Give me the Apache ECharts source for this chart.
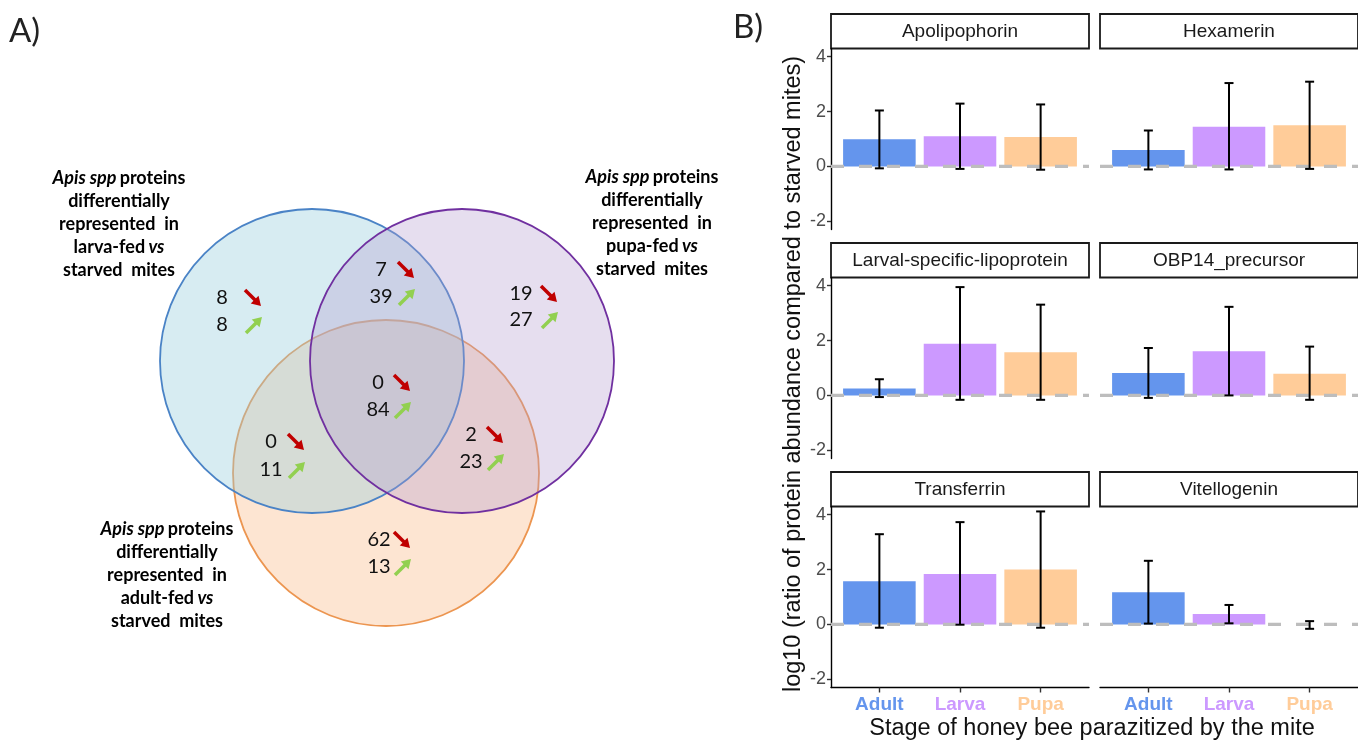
<!DOCTYPE html>
<html>
<head>
<meta charset="utf-8">
<script src="https://cdn.jsdelivr.net/npm/echarts@6/dist/echarts.min.js"></script>
<style>
html, body { margin: 0; padding: 0; background: #fff; }
#main { width: 1358px; height: 743px; }
</style>
</head>
<body>
<div id="main"></div>
<script>
// ---- data: Venn (A) ----
var regionNames = ['larva', 'larva+pupa', 'pupa', 'all', 'larva+adult', 'pupa+adult', 'adult'];
var regionDown = [8, 7, 19, 0, 0, 2, 62];
var regionUp = [8, 39, 27, 84, 11, 23, 13];

// ---- data: bars (B) ----
var proteins = ['Apolipophorin', 'Hexamerin', 'Larval-specific-lipoprotein', 'OBP14_precursor', 'Transferrin', 'Vitellogenin'];
var stages = ['Adult', 'Larva', 'Pupa'];
var adultMean = [0.99, 0.60, 0.25, 0.82, 1.57, 1.17];
var larvaMean = [1.10, 1.45, 1.88, 1.61, 1.84, 0.38];
var pupaMean  = [1.07, 1.50, 1.57, 0.79, 2.00, 0.00];
var adultLow  = [-0.07, -0.11, -0.06, -0.09, -0.12, 0.03];
var larvaLow  = [-0.09, -0.11, -0.16, 0.00, -0.01, 0.04];
var pupaLow   = [-0.12, -0.09, -0.16, -0.16, -0.12, -0.16];
var adultHigh = [2.04, 1.31, 0.59, 1.73, 3.29, 2.32];
var larvaHigh = [2.29, 3.04, 3.95, 3.23, 3.73, 0.71];
var pupaHigh  = [2.26, 3.09, 3.31, 1.78, 4.12, 0.12];
var yTicks = [-2, 0, 2, 4];

// ---- layout ----
var vennFont = 'Lato, "Open Sans", sans-serif';
var plotFont = '"Liberation Sans", Arial, sans-serif';
var stageColors = ['#6495ED', '#CC99FF', '#FFCC99'];
// circles drawn in this order: adult, larva, pupa
var vennCircles = [
    {cx: 386, cy: 473, r: 153, fill: 'rgba(249,186,137,0.38)', stroke: '#ec9550'},
    {cx: 312, cy: 361, r: 152, fill: 'rgba(150,205,222,0.38)', stroke: '#4a83c6'},
    {cx: 462, cy: 361, r: 152, fill: 'rgba(180,155,205,0.33)', stroke: '#7030a0'}
];
// number centre x, row y (down / up), arrow tail x
var vennSpots = [
    {nx: 222, y1: 298, y2: 325, ax: 245},
    {nx: 381, y1: 270, y2: 297, ax: 398},
    {nx: 521, y1: 294, y2: 320, ax: 541},
    {nx: 378, y1: 383, y2: 410, ax: 394},
    {nx: 271, y1: 442, y2: 470, ax: 288},
    {nx: 471, y1: 435, y2: 462, ax: 487},
    {nx: 379, y1: 540, y2: 567, ax: 394}
];
var colLeft = [831, 1100], colWidth = 258;
var rowTop = [48.5, 277.5, 506.5], rowHeight = 181, stripH = 34.5;

function arrow(x0, y0, x1, y1, color) {
    var dx = x1 - x0, dy = y1 - y0, L = Math.sqrt(dx * dx + dy * dy);
    var ux = dx / L, uy = dy / L, hl = 9, hw = 5.5;
    var bx = x1 - ux * hl, by = y1 - uy * hl;
    return [
        {type: 'line', shape: {x1: x0, y1: y0, x2: bx + ux, y2: by + uy}, style: {stroke: color, lineWidth: 3.5}},
        {type: 'polygon', shape: {points: [[x1, y1], [bx - uy * hw, by + ux * hw], [bx + uy * hw, by - ux * hw]]}, style: {fill: color}}
    ];
}

var myChart = echarts.init(document.getElementById('main'));

var grids = [], xAxes = [], yAxes = [], series = [], graphics = [];

// facets
proteins.forEach(function (name, i) {
    var r = Math.floor(i / 2), c = i % 2;
    var bottom = r === 2, leftCol = c === 0;
    grids.push({left: colLeft[c], top: rowTop[r], width: colWidth, height: rowHeight});
    xAxes.push({
        gridIndex: i, type: 'value', min: 0.4, max: 3.6,
        splitLine: {show: false},
        axisLine: {show: bottom, onZero: false, lineStyle: {color: '#000', width: 1.4}},
        axisTick: {show: bottom, customValues: [1, 2, 3], length: 5, lineStyle: {color: '#333', width: 1.4}},
        axisLabel: {
            show: bottom, customValues: [1, 2, 3], margin: 8,
            formatter: function (v) {
                var k = Math.round(v) - 1;
                return '{s' + k + '|' + stages[k] + '}';
            },
            rich: {
                s0: {color: stageColors[0], fontWeight: 'bold', fontSize: 19, fontFamily: plotFont},
                s1: {color: stageColors[1], fontWeight: 'bold', fontSize: 19, fontFamily: plotFont},
                s2: {color: stageColors[2], fontWeight: 'bold', fontSize: 19, fontFamily: plotFont}
            }
        }
    });
    yAxes.push({
        gridIndex: i, type: 'value', min: -2.3, max: 4.3,
        splitLine: {show: false},
        axisLine: {show: leftCol, onZero: false, lineStyle: {color: '#000', width: 1.4}},
        axisTick: {show: leftCol, customValues: yTicks, length: 4, lineStyle: {color: '#333', width: 1.4}},
        axisLabel: {show: leftCol, customValues: yTicks, margin: 5, color: '#4d4d4d', fontSize: 18, fontFamily: plotFont}
    });

    var means = [adultMean[i], larvaMean[i], pupaMean[i]];
    var lows = [adultLow[i], larvaLow[i], pupaLow[i]];
    var highs = [adultHigh[i], larvaHigh[i], pupaHigh[i]];
    var rows = means.map(function (m, k) { return [k + 1, m, lows[k], highs[k]]; });

    series.push({
        type: 'custom', xAxisIndex: i, yAxisIndex: i, z: 2, silent: true,
        data: rows,
        renderItem: function (params, api) {
            var x = api.value(0), v = api.value(1);
            var p0 = api.coord([x - 0.45, 0]);
            var p1 = api.coord([x + 0.45, v]);
            return {
                type: 'rect',
                shape: {x: p0[0], y: Math.min(p0[1], p1[1]), width: p1[0] - p0[0], height: Math.abs(p1[1] - p0[1])},
                style: {fill: stageColors[x - 1]}
            };
        }
    });
    series.push({
        type: 'line', xAxisIndex: i, yAxisIndex: i, z: 3, silent: true,
        data: [[0.4, 0], [3.6, 0]], symbol: 'none',
        lineStyle: {color: '#bdbdbd', width: 3.2, type: [13, 15]}
    });
    series.push({
        type: 'custom', xAxisIndex: i, yAxisIndex: i, z: 4, silent: true,
        data: rows,
        renderItem: function (params, api) {
            var x = api.value(0);
            var lo = api.coord([x, api.value(2)]);
            var hi = api.coord([x, api.value(3)]);
            var w = 4.5, st = {stroke: '#000', lineWidth: 2};
            return {
                type: 'group', children: [
                    {type: 'line', shape: {x1: lo[0], y1: lo[1], x2: hi[0], y2: hi[1]}, style: st},
                    {type: 'line', shape: {x1: lo[0] - w, y1: lo[1], x2: lo[0] + w, y2: lo[1]}, style: st},
                    {type: 'line', shape: {x1: hi[0] - w, y1: hi[1], x2: hi[0] + w, y2: hi[1]}, style: st}
                ]
            };
        }
    });

    graphics.push({
        type: 'rect', silent: true,
        shape: {x: colLeft[c], y: rowTop[r] - stripH, width: colWidth, height: stripH},
        style: {fill: '#fff', stroke: '#1a1a1a', lineWidth: 1.8}
    });
    graphics.push({
        type: 'text', silent: true,
        x: colLeft[c] + colWidth / 2, y: rowTop[r] - stripH / 2 + 1,
        style: {text: name, fill: '#1a1a1a', fontSize: 19, fontFamily: plotFont, align: 'center', verticalAlign: 'middle'}
    });
});

// Venn in a hidden pixel-space grid
var vi = proteins.length;
grids.push({left: 0, top: 0, width: 720, height: 743});
xAxes.push({gridIndex: vi, type: 'value', min: 0, max: 720, show: false});
yAxes.push({gridIndex: vi, type: 'value', min: 0, max: 743, inverse: true, show: false});

series.push({
    type: 'custom', xAxisIndex: vi, yAxisIndex: vi, silent: true, z: 1,
    data: vennCircles.map(function (cc) { return [cc.cx, cc.cy, cc.r]; }),
    renderItem: function (params, api) {
        var cc = vennCircles[params.dataIndex];
        var p = api.coord([api.value(0), api.value(1)]);
        var rad = api.size([api.value(2), 0])[0];
        return {
            type: 'circle', shape: {cx: p[0], cy: p[1], r: rad},
            style: {fill: cc.fill, stroke: cc.stroke, lineWidth: 1.8}
        };
    }
});
series.push({
    type: 'custom', xAxisIndex: vi, yAxisIndex: vi, silent: true, z: 5,
    data: regionNames.map(function (n, k) { return [k, regionDown[k], regionUp[k]]; }),
    renderItem: function (params, api) {
        var s = vennSpots[api.value(0)];
        var n1 = api.coord([s.nx, s.y1]), n2 = api.coord([s.nx, s.y2]);
        var a = api.coord([s.ax, s.y1]), b = api.coord([s.ax, s.y2]);
        var txt = {fill: '#111', fontSize: 20, fontFamily: vennFont, align: 'center', verticalAlign: 'middle'};
        var kids = [
            {type: 'text', style: echarts.util.extend({text: String(api.value(1)), x: n1[0], y: n1[1]}, txt)},
            {type: 'text', style: echarts.util.extend({text: String(api.value(2)), x: n2[0], y: n2[1]}, txt)}
        ];
        kids = kids.concat(arrow(a[0], a[1] - 8, a[0] + 16, a[1] + 8, '#c00000'));
        kids = kids.concat(arrow(b[0] + 1, b[1] + 8, b[0] + 17, b[1] - 8, '#92d050'));
        return {type: 'group', children: kids};
    }
});

// Venn set captions
var vennRich = {
    i: {fontStyle: 'italic', fontWeight: 'bold', fontSize: 18, fontFamily: vennFont, lineHeight: 23, color: '#111'},
    b: {fontWeight: 'bold', fontSize: 18, fontFamily: vennFont, lineHeight: 23, color: '#111'}
};
function caption(x, y, feed) {
    return {
        type: 'text', silent: true, x: x, y: y,
        style: {
            text: '{i|Apis spp} {b|proteins}\n{b|differentially}\n{b|represented  in}\n{b|' + feed + '} {i|vs}\n{b|starved  mites}',
            rich: vennRich, align: 'center', verticalAlign: 'middle'
        }
    };
}
graphics.push(caption(119, 224, 'larva-fed'));
graphics.push(caption(652, 223, 'pupa-fed'));
graphics.push(caption(167, 575, 'adult-fed'));

graphics.push({type: 'text', silent: true, x: 9, y: 31,
    style: {text: 'A)', fontSize: 33, fontFamily: vennFont, fill: '#222', verticalAlign: 'middle'}});
graphics.push({type: 'text', silent: true, x: 733, y: 27,
    style: {text: 'B)', fontSize: 33, fontFamily: vennFont, fill: '#222', verticalAlign: 'middle'}});

graphics.push({type: 'text', silent: true, x: 794, y: 374, rotation: Math.PI / 2,
    style: {text: 'log10 (ratio of protein abundance compared to starved mites)', fontSize: 23.5,
        fontFamily: plotFont, fill: '#111', align: 'center', verticalAlign: 'middle'}});
graphics.push({type: 'text', silent: true, x: 1092, y: 729,
    style: {text: 'Stage of honey bee parazitized by the mite', fontSize: 23.5,
        fontFamily: plotFont, fill: '#111', align: 'center', verticalAlign: 'middle'}});

var option = {
    animation: false,
    backgroundColor: '#fff',
    grid: grids,
    xAxis: xAxes,
    yAxis: yAxes,
    series: series,
    graphic: graphics
};
myChart.setOption(option);
</script>
</body>
</html>
